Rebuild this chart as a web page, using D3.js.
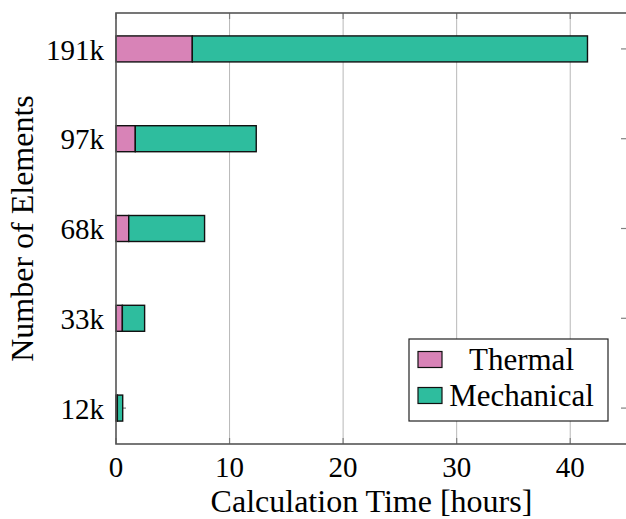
<!DOCTYPE html>
<html>
<head>
<meta charset="utf-8">
<script src="https://cdn.jsdelivr.net/npm/d3@7"></script>
<style>
  html, body { margin: 0; padding: 0; background: #fff; }
  svg { display: block; }
  text { font-family: "Liberation Serif", "DejaVu Serif", serif; fill: #000; }
</style>
</head>
<body>
<svg id="chart" width="626" height="519"></svg>
<script>
// Mesh sizes (bottom to top) and calculation time per phase, in hours
const categories = ["12k", "33k", "68k", "97k", "191k"];
const thermal    = [0.12, 0.56, 1.12, 1.70, 6.72];
const mechanical = [0.47, 1.96, 6.68, 10.65, 34.8];
const xTicks = [0, 10, 20, 30, 40];
const seriesNames = ["Thermal", "Mechanical"];
const seriesColors = ["#d883b7", "#2ebd9e"];

const svg = d3.select("#chart");
const margin = { left: 116, top: 13, right: 627, bottom: 444 };

const x = d3.scaleLinear().domain([0, 45]).range([margin.left, margin.right]);
const y = d3.scalePoint().domain(categories).range([margin.bottom, margin.top]).padding(0.4);
const barH = 26;

const H = margin.bottom - margin.top;

// vertical grid lines
svg.append("g")
  .selectAll("line").data(xTicks.filter(d => d > 0)).join("line")
  .attr("x1", d => x(d)).attr("x2", d => x(d))
  .attr("y1", margin.top).attr("y2", margin.bottom)
  .attr("stroke", "#b8b8b8").attr("stroke-width", 1);

// inward tick marks on all four sides
const tickLen = 6;
const tickG = svg.append("g").attr("stroke", "#808080").attr("stroke-width", 1.2);
xTicks.forEach(d => {
  tickG.append("line").attr("x1", x(d)).attr("x2", x(d)).attr("y1", margin.bottom).attr("y2", margin.bottom - tickLen);
  tickG.append("line").attr("x1", x(d)).attr("x2", x(d)).attr("y1", margin.top).attr("y2", margin.top + tickLen);
});
categories.forEach(c => {
  tickG.append("line").attr("x1", margin.left).attr("x2", margin.left + tickLen + 4).attr("y1", y(c)).attr("y2", y(c));
  tickG.append("line").attr("x1", margin.right).attr("x2", margin.right - tickLen).attr("y1", y(c)).attr("y2", y(c));
});

// stacked bars
const stackData = categories.map((c, i) => ({ cat: c, Thermal: thermal[i], Mechanical: mechanical[i] }));
const stacked = d3.stack().keys(seriesNames)(stackData);

svg.append("g").selectAll("g").data(stacked).join("g")
  .attr("fill", (d, i) => seriesColors[i])
  .selectAll("rect").data(d => d).join("rect")
  .attr("x", d => x(d[0]))
  .attr("width", d => x(d[1]) - x(d[0]))
  .attr("y", d => y(d.data.cat) - barH / 2)
  .attr("height", barH)
  .attr("stroke", "#111")
  .attr("stroke-width", 1.4);

// axis frame
svg.append("rect")
  .attr("x", margin.left).attr("y", margin.top)
  .attr("width", margin.right - margin.left).attr("height", H)
  .attr("fill", "none").attr("stroke", "#555").attr("stroke-width", 1.6);

// tick labels
svg.append("g").selectAll("text").data(xTicks).join("text")
  .attr("x", d => x(d)).attr("y", 477)
  .attr("text-anchor", "middle").attr("font-size", 29)
  .text(d => d);

svg.append("g").selectAll("text").data(categories).join("text")
  .attr("x", 104).attr("y", d => y(d)).attr("dy", "0.37em")
  .attr("text-anchor", "end").attr("font-size", 29)
  .text(d => d);

// axis titles
svg.append("text")
  .attr("x", (margin.left + margin.right) / 2).attr("y", 512)
  .attr("text-anchor", "middle").attr("font-size", 32)
  .text("Calculation Time [hours]");

svg.append("text")
  .attr("transform", `translate(33,${(margin.top + margin.bottom) / 2}) rotate(-90)`)
  .attr("text-anchor", "middle").attr("font-size", 32)
  .text("Number of Elements");

// legend
const lg = svg.append("g").attr("transform", "translate(409,339)");
lg.append("rect").attr("width", 199).attr("height", 82)
  .attr("fill", "#fff").attr("stroke", "#222").attr("stroke-width", 1.2);
seriesNames.forEach((name, i) => {
  const row = lg.append("g").attr("transform", `translate(0,${20.5 + i * 36})`);
  row.append("rect").attr("x", 9).attr("y", -8).attr("width", 24).attr("height", 16)
    .attr("fill", seriesColors[i]).attr("stroke", "#111").attr("stroke-width", 1.2);
  row.append("text").attr("x", 112.5).attr("y", 0).attr("dy", "0.35em")
    .attr("text-anchor", "middle").attr("font-size", 31)
    .text(name);
});
</script>
</body>
</html>
